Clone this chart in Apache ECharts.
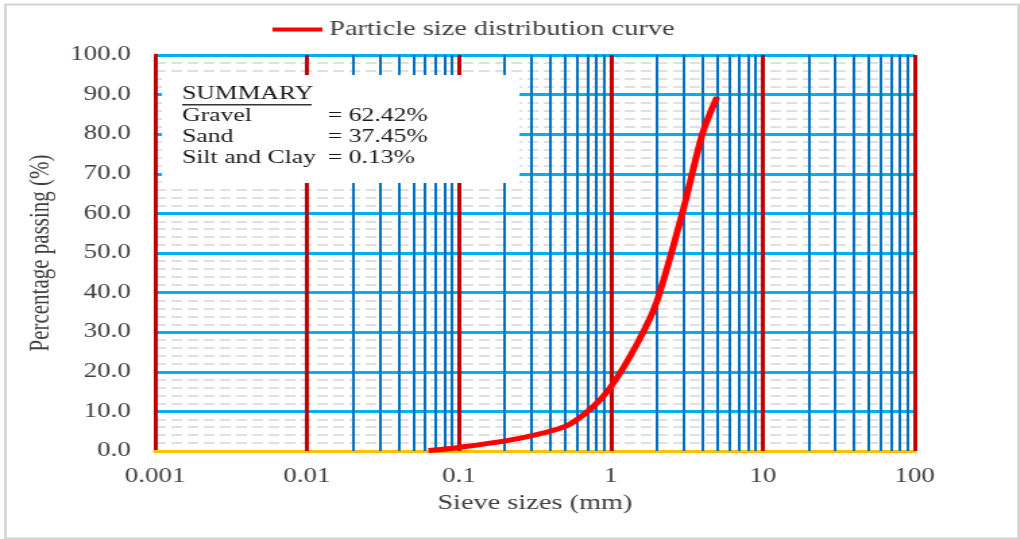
<!DOCTYPE html>
<html>
<head>
<meta charset="utf-8">
<script src="https://cdn.jsdelivr.net/npm/echarts@6/dist/echarts.min.js"></script>
<style>
html,body{margin:0;padding:0;background:#fff;overflow:hidden}
/* the source figure is stretched sideways, so draw narrow and widen */
#Chart{width:756px;height:539px;transform:scaleX(1.349);transform-origin:0 0}
</style>
</head>
<body>
<div id="Chart"></div>
<script>
// sieve sizes (mm) and percentage passing
var sieveSizes=[0.063,0.1,0.25,0.5,0.75,1,1.5,2,3,4,5]
var passing=[0.13,0.9,3.2,6.2,10.9,16.2,27.3,37.6,61,80,89.4]
// decade lines and the 2..9 lines in between
var decades=[0.001,0.01,0.1,1,10,100]
var minorMult=[2,3,4,5,6,7,8,9]
var summaryLabels=["Gravel","Sand","Silt and Clay"]
var summaryValues=["= 62.42%","= 37.45%","= 0.13%"]

var serif='"Liberation Serif","Times New Roman",serif'

var majorLines=[],minorLines=[]
for(var d=0;d<decades.length;d++){
	if(d>0) majorLines.push({xAxis:decades[d]})   //0.001 is the y axis line
	if(d==decades.length-1) continue
	for(var k=0;k<minorMult.length;k++){
		minorLines.push({xAxis:+(decades[d]*minorMult[k]).toPrecision(3)})
	}
}

var curve=[]
for(var i=0;i<sieveSizes.length;i++){
	curve.push([sieveSizes[i],passing[i]])
}

//summary box
var graphics=[]
graphics.push({type:'rect',left:120,top:75,shape:{width:265,height:108},style:{fill:'#fff'},z:100})
graphics.push({type:'text',left:135,top:85,z:101,style:{text:'SUMMARY',fill:'#1a1a1a',font:'19px '+serif}})
graphics.push({type:'rect',left:135,top:104,shape:{width:96,height:1.5},style:{fill:'#333'},z:101})
for(var j=0;j<summaryLabels.length;j++){
	graphics.push({type:'text',left:135,top:107+j*21,z:101,style:{text:summaryLabels[j],fill:'#1a1a1a',font:'19px '+serif}})
	graphics.push({type:'text',left:243,top:107+j*21,z:101,style:{text:summaryValues[j],fill:'#1a1a1a',font:'19px '+serif}})
}
graphics.push({type:'rect',left:1.5,top:2,shape:{width:751,height:534},style:{fill:'none',stroke:'#d4d4d4',lineWidth:2},z:100})

var myChart=echarts.init(document.getElementById('Chart'))
var option={
	animation:false,
	textStyle:{fontFamily:serif},
	legend:{
		data:['Particle size distribution curve'],
		left:197,
		top:14,
		icon:'rect',
		itemWidth:37,
		itemHeight:4,
		itemGap:4,
		textStyle:{fontSize:21,color:'#404040',fontFamily:serif}
	},
	grid:{left:115,right:78,top:55,bottom:88},
	xAxis:{
		type:'log',
		logBase:10,
		min:0.001,
		max:100,
		splitNumber:5,
		name:'Sieve sizes (mm)',
		nameLocation:'middle',
		nameGap:42,
		nameTextStyle:{fontSize:21,color:'#404040',fontFamily:serif},
		axisLine:{show:true,lineStyle:{color:'#ffc000',width:3}},
		axisTick:{show:false},
		axisLabel:{fontSize:20,color:'#404040',margin:16,fontFamily:serif,
			formatter:function(v){return String(+v.toPrecision(3))}},
		splitLine:{show:false}
	},
	yAxis:{
		type:'value',
		min:0,
		max:100,
		interval:10,
		name:'Percentage passing (%)',
		nameLocation:'middle',
		nameGap:62,
		nameTextStyle:{fontSize:21,color:'#404040',fontFamily:serif},
		axisLine:{show:true,lineStyle:{color:'#c00000',width:3}},
		axisTick:{show:false},
		axisLabel:{fontSize:20,color:'#404040',margin:18,fontFamily:serif,
			formatter:function(v){return v.toFixed(1)}},
		splitLine:{show:true,lineStyle:{color:'#00b0f0',width:3}},
		minorTick:{show:false,splitNumber:5},
		minorSplitLine:{show:true,lineStyle:{color:'#e0e0e0',width:2,type:'dashed'}}
	},
	series:[
		{
			name:'minor',
			type:'line',
			data:[],
			silent:true,
			z:1,
			markLine:{
				silent:true,
				symbol:'none',
				label:{show:false},
				lineStyle:{color:'#0070c0',width:2,type:'solid'},
				data:minorLines
			}
		},
		{
			name:'major',
			type:'line',
			data:[],
			silent:true,
			z:2,
			markLine:{
				silent:true,
				symbol:'none',
				label:{show:false},
				lineStyle:{color:'#c00000',width:3,type:'solid'},
				data:majorLines
			}
		},
		{
			name:'Particle size distribution curve',
			type:'line',
			data:curve,
			smooth:0.3,
			showSymbol:false,
			symbol:'none',
			z:5,
			itemStyle:{color:'#ff0000'},
			lineStyle:{color:'#ff0000',width:5}
		}
	],
	graphic:graphics
}
myChart.setOption(option)
</script>
</body>
</html>
